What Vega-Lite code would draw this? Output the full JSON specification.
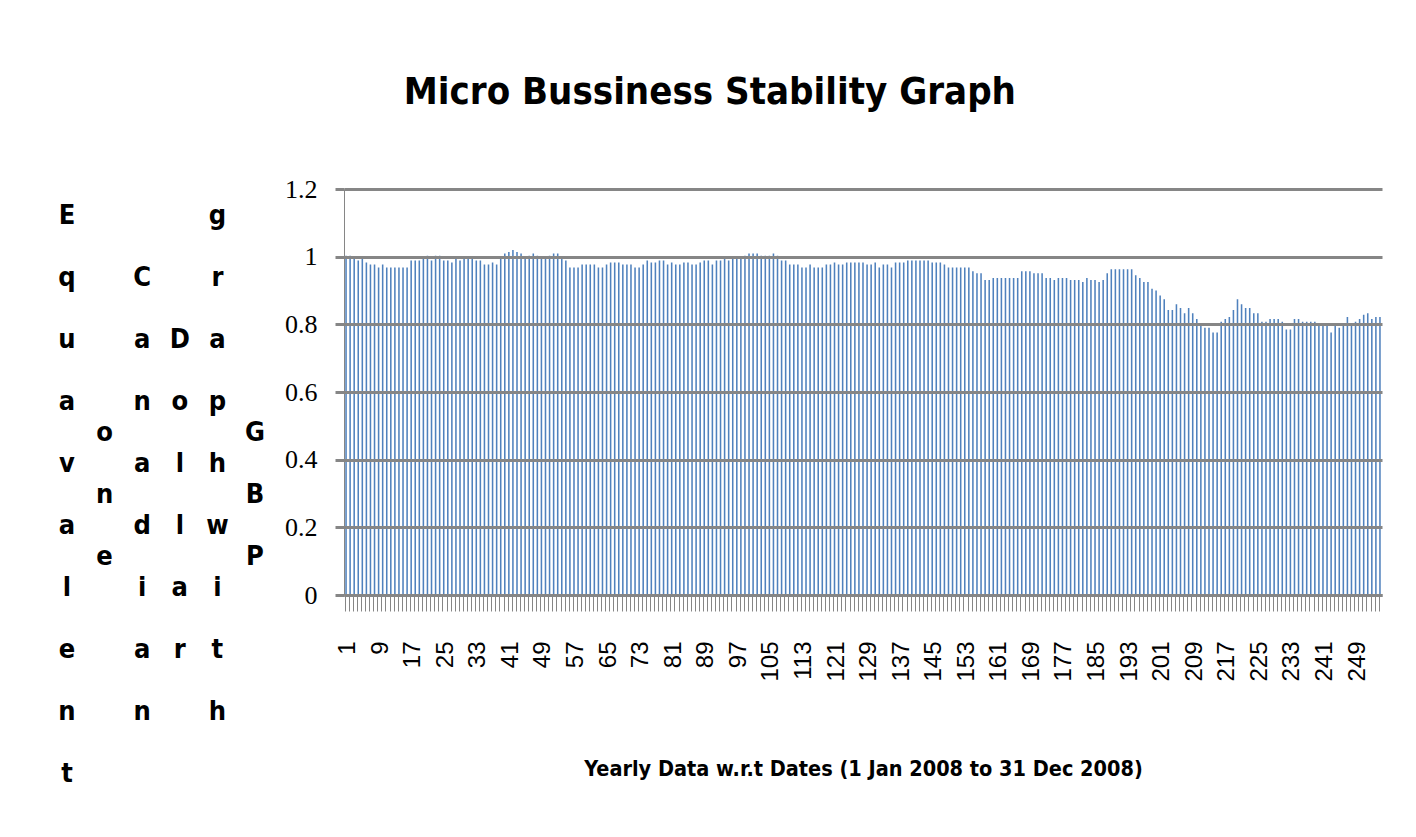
{
  "$schema": "https://vega.github.io/schema/vega-lite/v6.json",
  "padding": {"left": 58, "top": 74, "right": 20, "bottom": 10},
  "background": "white",
  "title": {"text": "Micro Bussiness Stability Graph", "font": "DejaVu Sans Condensed, Liberation Sans", "fontSize": 38, "fontWeight": "bold", "color": "#000000", "anchor": "middle", "offset": 64, "dx": -16},
  "spacing": 19,
  "hconcat": [
    {
      "width": 188,
      "height": 620,
      "data": {"values": [
        {"word": "Equavalent", "stack": "E\nq\nu\na\nv\na\nl\ne\nn\nt", "n": 10},
        {"word": "one", "stack": "o\nn\ne", "n": 3},
        {"word": "Canadian", "stack": "C\na\nn\na\nd\ni\na\nn", "n": 8},
        {"word": "Dollar", "stack": "D\no\nl\nl\na\nr", "n": 6},
        {"word": "graph with", "stack": "g\nr\na\np\nh\n \nw\ni\nt\nh", "n": 10},
        {"word": "GBP", "stack": "G\nB\nP", "n": 3}
      ]},
      "mark": {"type": "text", "font": "DejaVu Sans Condensed, Liberation Sans", "fontWeight": "bold", "fontSize": 27, "lineHeight": 62, "lineBreak": "\n", "baseline": "alphabetic", "align": "center", "dy": 4, "color": "#000000"},
      "encoding": {
        "x": {"field": "word", "type": "nominal", "sort": null, "scale": {"type": "point", "padding": 0}, "axis": null},
        "y": {"field": "n", "type": "quantitative", "scale": {"domain": [-9, 11], "nice": false, "zero": false}, "axis": null},
        "text": {"field": "stack", "type": "nominal"}
      }
    },
    {
      "width": 1038,
      "height": 406,
      "data": {"values": [
        {"day":1,"rate":1.003},{"day":2,"rate":1.003},{"day":3,"rate":0.994},{"day":4,"rate":0.989},{"day":5,"rate":0.994},
        {"day":6,"rate":0.983},{"day":7,"rate":0.977},{"day":8,"rate":0.977},{"day":9,"rate":0.968},{"day":10,"rate":0.977},
        {"day":11,"rate":0.968},{"day":12,"rate":0.968},{"day":13,"rate":0.968},{"day":14,"rate":0.968},{"day":15,"rate":0.968},
        {"day":16,"rate":0.968},{"day":17,"rate":0.989},{"day":18,"rate":0.989},{"day":19,"rate":0.989},{"day":20,"rate":0.994},
        {"day":21,"rate":1.003},{"day":22,"rate":0.989},{"day":23,"rate":1.003},{"day":24,"rate":1.003},{"day":25,"rate":0.989},
        {"day":26,"rate":0.989},{"day":27,"rate":0.983},{"day":28,"rate":0.994},{"day":29,"rate":0.989},{"day":30,"rate":0.994},
        {"day":31,"rate":0.994},{"day":32,"rate":0.994},{"day":33,"rate":0.989},{"day":34,"rate":0.989},{"day":35,"rate":0.977},
        {"day":36,"rate":0.977},{"day":37,"rate":0.983},{"day":38,"rate":0.977},{"day":39,"rate":0.994},{"day":40,"rate":1.009},
        {"day":41,"rate":1.014},{"day":42,"rate":1.02},{"day":43,"rate":1.014},{"day":44,"rate":1.009},{"day":45,"rate":0.994},
        {"day":46,"rate":1.003},{"day":47,"rate":1.009},{"day":48,"rate":1.003},{"day":49,"rate":0.994},{"day":50,"rate":0.994},
        {"day":51,"rate":1.003},{"day":52,"rate":1.009},{"day":53,"rate":1.009},{"day":54,"rate":0.994},{"day":55,"rate":0.989},
        {"day":56,"rate":0.968},{"day":57,"rate":0.968},{"day":58,"rate":0.968},{"day":59,"rate":0.977},{"day":60,"rate":0.977},
        {"day":61,"rate":0.977},{"day":62,"rate":0.977},{"day":63,"rate":0.968},{"day":64,"rate":0.968},{"day":65,"rate":0.977},
        {"day":66,"rate":0.983},{"day":67,"rate":0.983},{"day":68,"rate":0.983},{"day":69,"rate":0.977},{"day":70,"rate":0.977},
        {"day":71,"rate":0.977},{"day":72,"rate":0.968},{"day":73,"rate":0.968},{"day":74,"rate":0.977},{"day":75,"rate":0.989},
        {"day":76,"rate":0.983},{"day":77,"rate":0.983},{"day":78,"rate":0.989},{"day":79,"rate":0.989},{"day":80,"rate":0.977},
        {"day":81,"rate":0.983},{"day":82,"rate":0.977},{"day":83,"rate":0.977},{"day":84,"rate":0.983},{"day":85,"rate":0.983},
        {"day":86,"rate":0.977},{"day":87,"rate":0.977},{"day":88,"rate":0.983},{"day":89,"rate":0.989},{"day":90,"rate":0.989},
        {"day":91,"rate":0.977},{"day":92,"rate":0.989},{"day":93,"rate":0.989},{"day":94,"rate":0.994},{"day":95,"rate":0.989},
        {"day":96,"rate":0.994},{"day":97,"rate":0.994},{"day":98,"rate":0.994},{"day":99,"rate":1.003},{"day":100,"rate":1.009},
        {"day":101,"rate":1.009},{"day":102,"rate":1.009},{"day":103,"rate":1.003},{"day":104,"rate":1.003},{"day":105,"rate":1.003},
        {"day":106,"rate":1.009},{"day":107,"rate":1.003},{"day":108,"rate":0.989},{"day":109,"rate":0.989},{"day":110,"rate":0.977},
        {"day":111,"rate":0.977},{"day":112,"rate":0.977},{"day":113,"rate":0.968},{"day":114,"rate":0.968},{"day":115,"rate":0.977},
        {"day":116,"rate":0.968},{"day":117,"rate":0.968},{"day":118,"rate":0.968},{"day":119,"rate":0.977},{"day":120,"rate":0.977},
        {"day":121,"rate":0.983},{"day":122,"rate":0.977},{"day":123,"rate":0.977},{"day":124,"rate":0.983},{"day":125,"rate":0.983},
        {"day":126,"rate":0.983},{"day":127,"rate":0.983},{"day":128,"rate":0.983},{"day":129,"rate":0.977},{"day":130,"rate":0.977},
        {"day":131,"rate":0.983},{"day":132,"rate":0.968},{"day":133,"rate":0.977},{"day":134,"rate":0.977},{"day":135,"rate":0.968},
        {"day":136,"rate":0.983},{"day":137,"rate":0.983},{"day":138,"rate":0.983},{"day":139,"rate":0.989},{"day":140,"rate":0.989},
        {"day":141,"rate":0.989},{"day":142,"rate":0.989},{"day":143,"rate":0.989},{"day":144,"rate":0.989},{"day":145,"rate":0.983},
        {"day":146,"rate":0.983},{"day":147,"rate":0.983},{"day":148,"rate":0.977},{"day":149,"rate":0.968},{"day":150,"rate":0.968},
        {"day":151,"rate":0.968},{"day":152,"rate":0.968},{"day":153,"rate":0.968},{"day":154,"rate":0.968},{"day":155,"rate":0.957},
        {"day":156,"rate":0.951},{"day":157,"rate":0.951},{"day":158,"rate":0.931},{"day":159,"rate":0.931},{"day":160,"rate":0.937},
        {"day":161,"rate":0.937},{"day":162,"rate":0.937},{"day":163,"rate":0.937},{"day":164,"rate":0.937},{"day":165,"rate":0.937},
        {"day":166,"rate":0.937},{"day":167,"rate":0.957},{"day":168,"rate":0.957},{"day":169,"rate":0.957},{"day":170,"rate":0.951},
        {"day":171,"rate":0.951},{"day":172,"rate":0.951},{"day":173,"rate":0.937},{"day":174,"rate":0.937},{"day":175,"rate":0.931},
        {"day":176,"rate":0.937},{"day":177,"rate":0.937},{"day":178,"rate":0.937},{"day":179,"rate":0.931},{"day":180,"rate":0.931},
        {"day":181,"rate":0.931},{"day":182,"rate":0.925},{"day":183,"rate":0.937},{"day":184,"rate":0.931},{"day":185,"rate":0.931},
        {"day":186,"rate":0.925},{"day":187,"rate":0.931},{"day":188,"rate":0.951},{"day":189,"rate":0.963},{"day":190,"rate":0.963},
        {"day":191,"rate":0.963},{"day":192,"rate":0.963},{"day":193,"rate":0.963},{"day":194,"rate":0.963},{"day":195,"rate":0.945},
        {"day":196,"rate":0.937},{"day":197,"rate":0.925},{"day":198,"rate":0.925},{"day":199,"rate":0.905},{"day":200,"rate":0.9},
        {"day":201,"rate":0.885},{"day":202,"rate":0.874},{"day":203,"rate":0.842},{"day":204,"rate":0.842},{"day":205,"rate":0.859},
        {"day":206,"rate":0.848},{"day":207,"rate":0.833},{"day":208,"rate":0.848},{"day":209,"rate":0.833},{"day":210,"rate":0.816},
        {"day":211,"rate":0.798},{"day":212,"rate":0.79},{"day":213,"rate":0.79},{"day":214,"rate":0.776},{"day":215,"rate":0.776},
        {"day":216,"rate":0.808},{"day":217,"rate":0.816},{"day":218,"rate":0.822},{"day":219,"rate":0.842},{"day":220,"rate":0.874},
        {"day":221,"rate":0.859},{"day":222,"rate":0.848},{"day":223,"rate":0.848},{"day":224,"rate":0.833},{"day":225,"rate":0.833},
        {"day":226,"rate":0.808},{"day":227,"rate":0.808},{"day":228,"rate":0.816},{"day":229,"rate":0.816},{"day":230,"rate":0.816},
        {"day":231,"rate":0.808},{"day":232,"rate":0.785},{"day":233,"rate":0.785},{"day":234,"rate":0.816},{"day":235,"rate":0.816},
        {"day":236,"rate":0.808},{"day":237,"rate":0.808},{"day":238,"rate":0.808},{"day":239,"rate":0.808},{"day":240,"rate":0.798},
        {"day":241,"rate":0.798},{"day":242,"rate":0.798},{"day":243,"rate":0.776},{"day":244,"rate":0.798},{"day":245,"rate":0.79},
        {"day":246,"rate":0.798},{"day":247,"rate":0.822},{"day":248,"rate":0.798},{"day":249,"rate":0.808},{"day":250,"rate":0.816},
        {"day":251,"rate":0.828},{"day":252,"rate":0.833},{"day":253,"rate":0.816},{"day":254,"rate":0.822},{"day":255,"rate":0.822}
      ]},
      "mark": {"type": "bar", "color": "#4F81BD"},
      "encoding": {
        "x": {
          "field": "day", "type": "ordinal",
          "scale": {"paddingInner": 0.62, "paddingOuter": 0.31},
          "axis": {
            "bandPosition": 0, "labelOffset": 2,
            "labelExpr": "(datum.value - 1) % 8 === 0 ? datum.label : ''",
            "labelAngle": 270, "labelAlign": "right", "labelBaseline": "middle",
            "labelOverlap": false, "labelFont": "Liberation Sans", "labelFontSize": 24, "labelColor": "#000000",
            "labelPadding": 30, "tickSize": 16, "tickWidth": 1, "tickColor": "#868686",
            "domainColor": "#868686", "domainWidth": 3,
            "title": "Yearly Data w.r.t Dates (1 Jan 2008 to 31 Dec 2008)",
            "titleFont": "DejaVu Sans Condensed, Liberation Sans", "titleFontSize": 21.5, "titleFontWeight": "bold", "titleColor": "#000000", "titlePadding": 77
          }
        },
        "y": {
          "field": "rate", "type": "quantitative",
          "scale": {"domain": [0, 1.2], "nice": false},
          "axis": {
            "values": [0, 0.2, 0.4, 0.6, 0.8, 1, 1.2], "format": "~g", "title": null, "zindex": 1,
            "labelFont": "Liberation Serif", "labelFontSize": 26, "labelColor": "#000000", "labelPadding": 18,
            "tickSize": 9, "tickWidth": 3, "tickColor": "#868686",
            "grid": true, "gridColor": "#868686", "gridWidth": 3,
            "domainColor": "#868686", "domainWidth": 1
          }
        }
      }
    }
  ],
  "config": {"view": {"stroke": null}}
}
